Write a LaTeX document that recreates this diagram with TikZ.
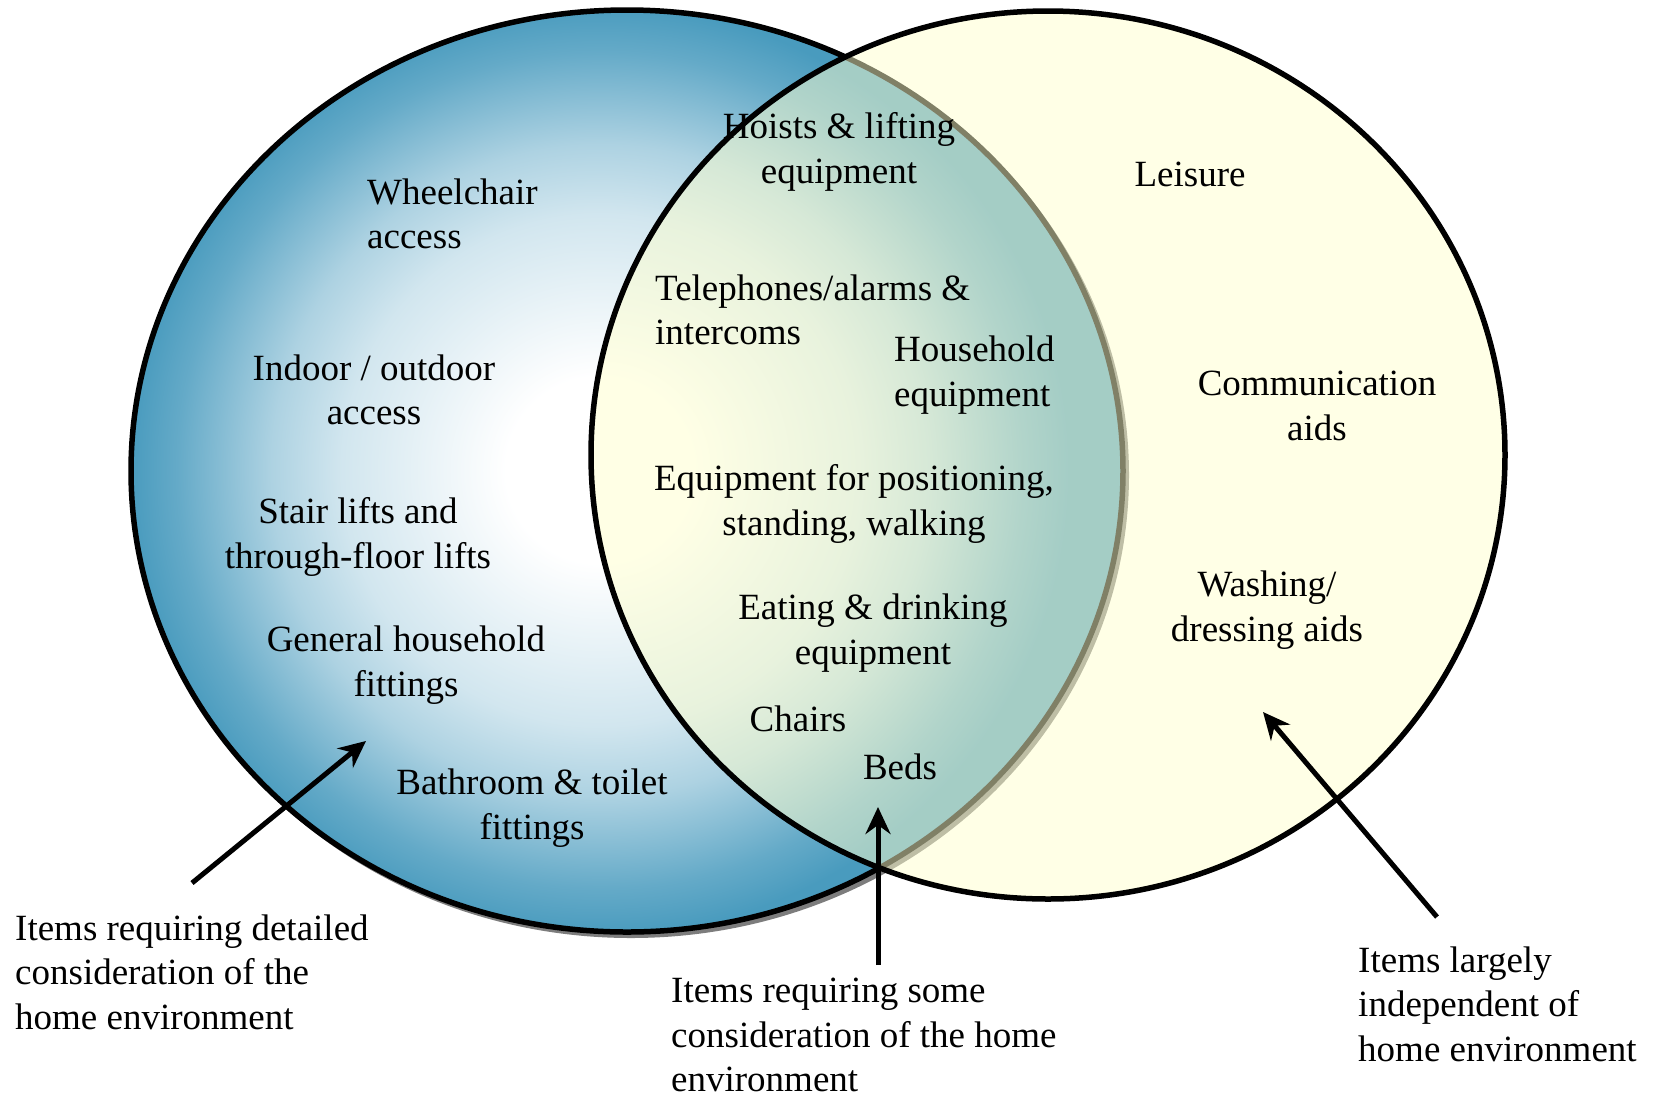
\documentclass[tikz,border=0pt]{standalone}
\usepackage{fontspec}
\setmainfont{Liberation Serif}
\usetikzlibrary{arrows.meta}
\definecolor{cblue}{RGB}{73,155,190}
\definecolor{cyel}{RGB}{255,255,205}
\definecolor{cshadow}{RGB}{125,125,125}
\colorlet{cbA}{cblue!25!white}
\colorlet{cbB}{cblue!45!white}
\colorlet{cbC}{cblue!65!white}
\colorlet{cbD}{cblue!85!white}
\pgfdeclareradialshading{leftglow}{\pgfpoint{0bp}{0bp}}{color(0bp)=(white); color(5bp)=(white); color(13.75bp)=(cbA); color(17.5bp)=(cbB); color(20bp)=(cbC); color(22.5bp)=(cbD); color(25bp)=(cblue); color(50bp)=(cblue)}
\begin{document}
\begin{tikzpicture}[x=1pt,y=-1pt,
  lbl/.style={font=\fontsize{37}{44.5}\selectfont, inner sep=0pt, align=center},
  lbll/.style={lbl, align=left},
  outline/.style={line width=5.5pt, draw=black},
  pointer/.style={line width=5pt, -{Stealth[length=27pt,width=25pt,inset=9pt]}}]
\useasboundingbox (0,0) rectangle (1654,1096);
% shadow of left circle
\fill[cshadow] (631,475) ellipse [x radius=498, y radius=463];
% left circle
\begin{scope}
\clip (627,471) ellipse [x radius=496, y radius=461];
\fill[cblue] (627,471) ellipse [x radius=496, y radius=461];
\shade[shading=leftglow] (600,470) ellipse [x radius=470, y radius=465];
\end{scope}
\draw[outline] (627,471) ellipse [x radius=496, y radius=461];
% right circle
\fill[cyel, fill opacity=0.5] (1048,455) ellipse [x radius=457, y radius=444];
\draw[outline] (1048,455) ellipse [x radius=457, y radius=444];
% labels
\node[lbll, anchor=west] (wheel) at (367,214) {Wheelchair\\access};
\node[lbl] (indoor) at (374,390) {Indoor / outdoor\\access};
\node[lbl] (stair) at (358,537) {Stair lifts and\\through-floor lifts};
\node[lbl] (general) at (406,665) {General household\\fittings};
\node[lbl] (bath) at (532,808) {Bathroom \& toilet\\fittings};
\node[lbl] (hoists) at (839,152) {Hoists \& lifting\\equipment};
\node[lbll, anchor=west] (tel) at (655,310) {Telephones/alarms \&\\intercoms};
\node[lbll, anchor=west] (house) at (894,375) {Household\\equipment};
\node[lbl] (posn) at (854,504) {Equipment for positioning,\\standing, walking};
\node[lbl] (eat) at (873,633) {Eating \& drinking\\equipment};
\node[lbl] (chairs) at (798,719) {Chairs};
\node[lbl] (beds) at (900,767) {Beds};
\node[lbl] (leisure) at (1190,174) {Leisure};
\node[lbl] (comm) at (1317,406) {Communication\\aids};
\node[lbl] (wash) at (1267,610) {Washing/\\dressing aids};
\node[lbll, anchor=west] (cap1) at (15,972) {Items requiring detailed\\consideration of the\\home environment};
\node[lbll, anchor=west] (cap2) at (671,1035) {Items requiring some\\consideration of the home\\environment};
\node[lbll, anchor=west] (cap3) at (1358,1004) {Items largely\\independent of\\home environment};
% arrows
\coordinate (t1) at (192,883); \coordinate (h1) at (366,741);
\coordinate (t2) at (878,965); \coordinate (h2) at (878,807);
\coordinate (t3) at (1437,917); \coordinate (h3) at (1263,712);
\draw[pointer] (t1) -- (h1);
\draw[pointer] (t2) -- (h2);
\draw[pointer] (t3) -- (h3);
\end{tikzpicture}
\end{document}
